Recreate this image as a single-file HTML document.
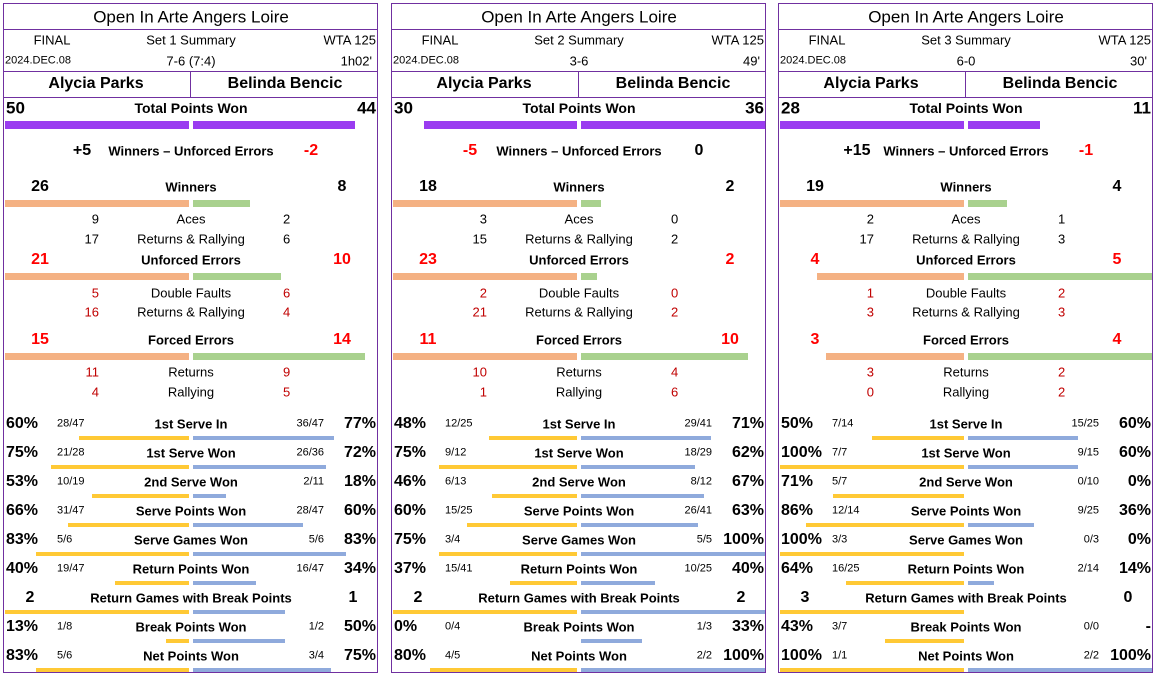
<!DOCTYPE html>
<html><head><meta charset="utf-8"><style>
body{margin:0;width:1157px;height:676px;background:#fff;position:relative;overflow:hidden;font-family:"Liberation Sans",sans-serif;color:#000}
.p{position:absolute;top:3px;width:375px;height:670px;border:1px solid #7030A0;box-sizing:border-box}
.t{position:absolute;white-space:nowrap;line-height:1;transform:translateY(-50%)}
.c{transform:translate(-50%,-50%)}
.r{transform:translate(-100%,-50%)}
.b{position:absolute}
.hl{position:absolute;left:0;width:100%;height:1px;background:#7030A0}
</style></head><body>
<script>
const panelX=[3,391,778];
const setNames=["Set 1 Summary","Set 2 Summary","Set 3 Summary"];
const scores=["7-6 (7:4)","3-6","6-0"];
const durations=["1h02'","49'","30'"];
const totalPts=[[50,44],[30,36],[28,11]];
const wue=[[5,-2],[-5,0],[15,-1]];
const winners=[[26,8],[18,2],[19,4]];
const aces=[[9,2],[3,0],[2,1]];
const winRR=[[17,6],[15,2],[17,3]];
const ue=[[21,10],[23,2],[4,5]];
const df=[[5,6],[2,0],[1,2]];
const ueRR=[[16,4],[21,2],[3,3]];
const fe=[[15,14],[11,10],[3,4]];
const feRet=[[11,9],[10,4],[3,2]];
const feRal=[[4,5],[1,6],[0,2]];
const pctLabels=["1st Serve In","1st Serve Won","2nd Serve Won","Serve Points Won","Serve Games Won","Return Points Won"];
const pctFrac=[
 [[28,47,36,47],[21,28,26,36],[10,19,2,11],[31,47,28,47],[5,6,5,6],[19,47,16,47]],
 [[12,25,29,41],[9,12,18,29],[6,13,8,12],[15,25,26,41],[3,4,5,5],[15,41,10,25]],
 [[7,14,15,25],[7,7,9,15],[5,7,0,10],[12,14,9,25],[3,3,0,3],[16,25,2,14]]];
const rgbp=[[2,1],[2,2],[3,0]];
const bpw=[[1,8,1,2],[0,4,1,3],[3,7,0,0]];
const netw=[[5,6,3,4],[4,5,2,2],[1,1,2,2]];

const HALF=184;
function txt(p,s,x,y,size,opt){const d=document.createElement('div');d.className='t'+(opt.a?' '+opt.a:'');
d.style.left=x+'px';d.style.top=y+'px';d.style.fontSize=size+'px';if(opt.bold)d.style.fontWeight='bold';if(opt.color)d.style.color=opt.color;d.textContent=s;


p.appendChild(d);}
function bars(p,l,r,max,y,h,cl,cr,name){const cx=187;
const lw=max?l/max*HALF:0,rw=max?r/max*HALF:0;
const a=document.createElement('div');a.className='b';a.style.cssText=`left:${cx-2-lw}px;top:${y}px;width:${lw}px;height:${h}px;background:${cl}`;


p.appendChild(a);
const b=document.createElement('div');b.className='b';b.style.cssText=`left:${cx+2}px;top:${y}px;width:${rw}px;height:${h}px;background:${cr}`;


p.appendChild(b);}
function pct(n,d){return d?Math.round(n/d*100)+'%':'-';}
const RED='#FF0000',DRED='#C00000',PUR='#9A3CF0',OR='#F4B183',GR='#A9D18E',GO='#FFC935',BL='#8FAADC';
panelX.forEach((x0,i)=>{
 const p=document.createElement('div');p.className='p';p.style.left=x0+'px';
 
 
 document.body.appendChild(p);
 [25,67,93].forEach(y=>{const l=document.createElement('div');l.className='hl';l.style.top=y+'px';
 
 
 p.appendChild(l);});
 const v=document.createElement('div');v.className='b';v.style.cssText='left:186px;top:67px;width:1px;height:26px;background:#7030A0';
 
 
 p.appendChild(v);
 const cx=187;
 txt(p,"Open In Arte Angers Loire",cx,13,17,{a:'c',name:'tournament-title'});
 txt(p,"FINAL",48,36,13,{a:'c',name:'round'});
 txt(p,setNames[i],cx,36,13,{a:'c',name:'set-title'});
 txt(p,"WTA 125",372,36,13,{a:'r',name:'tour-level'});
 txt(p,"2024.DEC.08",1,57,11,{name:'match-date'});
 txt(p,scores[i],cx,57,13,{a:'c',name:'set-score'});
 txt(p,durations[i],368,57,13,{a:'r',name:'duration'});
 txt(p,"Alycia Parks",92,80,16,{a:'c',bold:1,name:'player-1-name'});
 txt(p,"Belinda Bencic",281,80,16,{a:'c',bold:1,name:'player-2-name'});
 // total points
 const tp=totalPts[i];
 txt(p,tp[0],2,104,17,{bold:1,name:'total-points-p1'});
 txt(p,tp[1],372,104,17,{a:'r',bold:1,name:'total-points-p2'});
 txt(p,"Total Points Won",cx,104,14,{a:'c',bold:1,name:'total-points-label'});
 bars(p,tp[0],tp[1],Math.max(...tp),117,8,PUR,PUR,'total-points');
 const w=wue[i];const fmt=n=>n>0?'+'+n:''+n;
 txt(p,fmt(w[0]),78,147,16,{a:'c',bold:1,color:w[0]<0?RED:'#000',name:'wue-p1'});
 txt(p,"Winners \u2013 Unforced Errors",cx,147,13,{a:'c',bold:1,name:'wue-label'});
 txt(p,fmt(w[1]),307,147,16,{a:'c',bold:1,color:w[1]<0?RED:'#000',name:'wue-p2'});
 function bigRow(arr,lab,y,color,name){
  txt(p,arr[0],36,y,16,{a:'c',bold:1,color,name:name+'-p1'});
  txt(p,lab,cx,y,13,{a:'c',bold:1,name:name+'-label'});
  txt(p,arr[1],338,y,16,{a:'c',bold:1,color,name:name+'-p2'});
  bars(p,arr[0],arr[1],Math.max(...arr),y+13,7,OR,GR,name);}
 function subRow(arr,lab,y,color,name){
  txt(p,arr[0],95,y,13,{a:'r',color,name:name+'-p1'});
  txt(p,lab,cx,y,13,{a:'c',name:name+'-label'});
  txt(p,arr[1],279,y,13,{color,name:name+'-p2'});}
 bigRow(winners[i],"Winners",183,'#000','winners');
 subRow(aces[i],"Aces",215,'#000','aces');
 subRow(winRR[i],"Returns & Rallying",235,'#000','winners-returns-rallying');
 bigRow(ue[i],"Unforced Errors",256,RED,'unforced-errors');
 subRow(df[i],"Double Faults",289,DRED,'double-faults');
 subRow(ueRR[i],"Returns & Rallying",308,DRED,'ue-returns-rallying');
 bigRow(fe[i],"Forced Errors",336,RED,'forced-errors');
 subRow(feRet[i],"Returns",368,DRED,'fe-returns');
 subRow(feRal[i],"Rallying",388,DRED,'fe-rallying');
 function pRow(f,lab,y,name){
  txt(p,pct(f[0],f[1]),2,y,16,{bold:1,name:name+'-pct-p1'});
  txt(p,f[0]+'/'+f[1],53,y,11,{name:name+'-frac-p1'});
  txt(p,lab,cx,y,13,{a:'c',bold:1,name:name+'-label'});
  txt(p,f[2]+'/'+f[3],320,y,11,{a:'r',name:name+'-frac-p2'});
  txt(p,pct(f[2],f[3]),372,y,16,{a:'r',bold:1,name:name+'-pct-p2'});
  bars(p,f[1]?f[0]/f[1]:0,f[3]?f[2]/f[3]:0,1,y+12,4,GO,BL,name);}
 pctLabels.forEach((lab,k)=>pRow(pctFrac[i][k],lab,420+29*k,lab.toLowerCase().replace(/ /g,'-')));
 const g=rgbp[i];
 txt(p,g[0],26,594,16,{a:'c',bold:1,name:'rgbp-p1'});
 txt(p,"Return Games with Break Points",cx,594,13,{a:'c',bold:1,name:'rgbp-label'});
 txt(p,g[1],349,594,16,{a:'c',bold:1,name:'rgbp-p2'});
 bars(p,g[0],g[1],Math.max(...g),606,4,GO,BL,'rgbp');
 pRow(bpw[i],"Break Points Won",623,'break-points-won');
 pRow(netw[i],"Net Points Won",652,'net-points-won');
});
</script>
</body></html>
